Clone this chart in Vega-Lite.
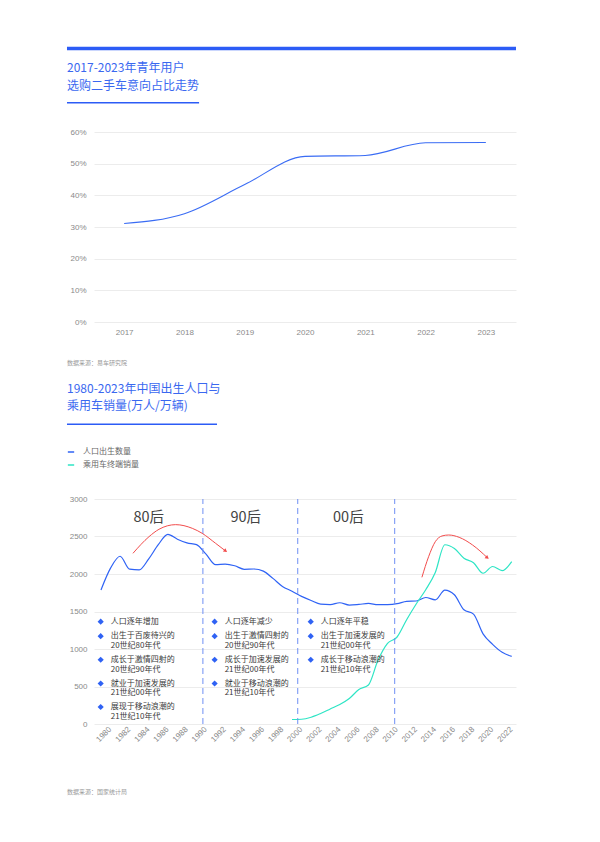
{
  "$schema": "https://vega.github.io/schema/vega-lite/v6.json",
  "background": "white",
  "padding": {"left": 65, "top": 45, "right": 20, "bottom": 10},
  "spacing": 20,
  "resolve": {"legend": {"color": "independent"}},
  "config": {
    "view": {"stroke": null},
    "font": "Noto Sans CJK SC",
    "axis": {"labelFont": "Liberation Sans", "labelFontSize": 8, "labelColor": "#8a8a8a", "domain": false, "ticks": false, "gridColor": "#ececec", "gridWidth": 1, "labelOverlap": false}
  },
  "vconcat": [
    {
      "width": 422,
      "height": 63,
      "layer": [
        {
          "data": {"values": [{"part": "bar"}]},
          "mark": {"type": "rule", "color": "#2c5cf6", "strokeWidth": 3.5},
          "encoding": {
            "x": {"datum": -0.064, "type": "quantitative", "scale": {"domain": [0, 1]}, "axis": null},
            "x2": {"datum": 1},
            "y": {"datum": 94.4, "type": "quantitative", "scale": {"domain": [0, 100]}, "axis": null}
          }
        },
        {
          "data": {"values": [{"title": "2017-2023年青年用户\n选购二手车意向占比走势"}]},
          "mark": {"type": "text", "align": "left", "baseline": "middle", "lineBreak": "\n", "lineHeight": 18, "fontSize": 12, "color": "#3a68f0"},
          "encoding": {
            "text": {"field": "title"},
            "x": {"datum": -0.064, "type": "quantitative"},
            "y": {"datum": 63.5, "type": "quantitative"}
          }
        },
        {
          "data": {"values": [{"part": "underline"}]},
          "mark": {"type": "rule", "color": "#2c5cf6", "strokeWidth": 1.5},
          "encoding": {
            "x": {"datum": -0.064, "type": "quantitative"},
            "x2": {"datum": 0.249},
            "y": {"datum": 8.4, "type": "quantitative"}
          }
        }
      ]
    },
    {
      "width": 422,
      "height": 190,
      "data": {"values": [
        {"year": "2017", "share": 0.311},
        {"year": "2018", "share": 0.342},
        {"year": "2019", "share": 0.434},
        {"year": "2020", "share": 0.523},
        {"year": "2021", "share": 0.526},
        {"year": "2022", "share": 0.566},
        {"year": "2023", "share": 0.567}
      ]},
      "mark": {"type": "line", "interpolate": "monotone", "color": "#3a6cf4", "strokeWidth": 1.1},
      "encoding": {
        "x": {"field": "year", "type": "ordinal", "scale": {"type": "point", "padding": 0.5}, "axis": {"title": null, "labelAngle": 0, "labelPadding": 6, "grid": false}},
        "y": {"field": "share", "type": "quantitative", "scale": {"domain": [0, 0.6], "nice": false}, "axis": {"title": null, "format": ".0%", "values": [0, 0.1, 0.2, 0.3, 0.4, 0.5, 0.6], "labelPadding": 8}}
      }
    },
    {
      "width": 422,
      "height": 72,
      "layer": [
        {
          "data": {"values": [{"source": "数据来源：易车研究院"}]},
          "mark": {"type": "text", "align": "left", "baseline": "middle", "fontSize": 6, "color": "#999999"},
          "encoding": {
            "text": {"field": "source"},
            "x": {"datum": -0.064, "type": "quantitative", "scale": {"domain": [0, 1]}, "axis": null},
            "y": {"datum": 90.7, "type": "quantitative", "scale": {"domain": [0, 100]}, "axis": null}
          }
        },
        {
          "data": {"values": [{"title": "1980-2023年中国出生人口与\n乘用车销量(万人/万辆)"}]},
          "mark": {"type": "text", "align": "left", "baseline": "middle", "lineBreak": "\n", "lineHeight": 17, "fontSize": 12, "color": "#3a68f0"},
          "encoding": {
            "text": {"field": "title"},
            "x": {"datum": -0.064, "type": "quantitative"},
            "y": {"datum": 54.2, "type": "quantitative"}
          }
        },
        {
          "data": {"values": [{"part": "underline"}]},
          "mark": {"type": "rule", "color": "#2c5cf6", "strokeWidth": 1.5},
          "encoding": {
            "x": {"datum": -0.064, "type": "quantitative"},
            "x2": {"datum": 0.2915},
            "y": {"datum": 5.1, "type": "quantitative"}
          }
        }
      ]
    },
    {
      "width": 422,
      "height": 225,
      "encoding": {
        "x": {"field": "year", "type": "quantitative", "scale": {"domain": [1979.27, 2023.45], "nice": false, "zero": false},
          "axis": {"title": null, "grid": false, "values": [1980, 1982, 1984, 1986, 1988, 1990, 1992, 1994, 1996, 1998, 2000, 2002, 2004, 2006, 2008, 2010, 2012, 2014, 2016, 2018, 2020, 2022], "format": "d", "labelAngle": -45, "labelAlign": "right", "labelBaseline": "middle", "labelPadding": 4, "labelOffset": 9, "labelOverlap": false, "labelFlush": false}},
        "y": {"field": "value", "type": "quantitative", "scale": {"domain": [0, 3000], "nice": false},
          "axis": {"title": null, "format": "d", "values": [0, 500, 1000, 1500, 2000, 2500, 3000], "labelPadding": 7, "labelOverlap": false, "labelFlush": false}}
      },
      "layer": [
        {
          "data": {"values": [
            {"year": 1980, "series": "人口出生数量", "value": 1787},
            {"year": 1981, "series": "人口出生数量", "value": 2078},
            {"year": 1982, "series": "人口出生数量", "value": 2237},
            {"year": 1983, "series": "人口出生数量", "value": 2064},
            {"year": 1984, "series": "人口出生数量", "value": 2055},
            {"year": 1985, "series": "人口出生数量", "value": 2202},
            {"year": 1986, "series": "人口出生数量", "value": 2391},
            {"year": 1987, "series": "人口出生数量", "value": 2529},
            {"year": 1988, "series": "人口出生数量", "value": 2464},
            {"year": 1989, "series": "人口出生数量", "value": 2414},
            {"year": 1990, "series": "人口出生数量", "value": 2391},
            {"year": 1991, "series": "人口出生数量", "value": 2265},
            {"year": 1992, "series": "人口出生数量", "value": 2125},
            {"year": 1993, "series": "人口出生数量", "value": 2132},
            {"year": 1994, "series": "人口出生数量", "value": 2110},
            {"year": 1995, "series": "人口出生数量", "value": 2063},
            {"year": 1996, "series": "人口出生数量", "value": 2067},
            {"year": 1997, "series": "人口出生数量", "value": 2038},
            {"year": 1998, "series": "人口出生数量", "value": 1942},
            {"year": 1999, "series": "人口出生数量", "value": 1834},
            {"year": 2000, "series": "人口出生数量", "value": 1771},
            {"year": 2001, "series": "人口出生数量", "value": 1702},
            {"year": 2002, "series": "人口出生数量", "value": 1647},
            {"year": 2003, "series": "人口出生数量", "value": 1599},
            {"year": 2004, "series": "人口出生数量", "value": 1593},
            {"year": 2005, "series": "人口出生数量", "value": 1617},
            {"year": 2006, "series": "人口出生数量", "value": 1585},
            {"year": 2007, "series": "人口出生数量", "value": 1594},
            {"year": 2008, "series": "人口出生数量", "value": 1608},
            {"year": 2009, "series": "人口出生数量", "value": 1591},
            {"year": 2010, "series": "人口出生数量", "value": 1592},
            {"year": 2011, "series": "人口出生数量", "value": 1604},
            {"year": 2012, "series": "人口出生数量", "value": 1635},
            {"year": 2013, "series": "人口出生数量", "value": 1640},
            {"year": 2014, "series": "人口出生数量", "value": 1687},
            {"year": 2015, "series": "人口出生数量", "value": 1655},
            {"year": 2016, "series": "人口出生数量", "value": 1786},
            {"year": 2017, "series": "人口出生数量", "value": 1723},
            {"year": 2018, "series": "人口出生数量", "value": 1523},
            {"year": 2019, "series": "人口出生数量", "value": 1465},
            {"year": 2020, "series": "人口出生数量", "value": 1202},
            {"year": 2021, "series": "人口出生数量", "value": 1062},
            {"year": 2022, "series": "人口出生数量", "value": 956},
            {"year": 2023, "series": "人口出生数量", "value": 902},
            {"year": 2000, "series": "乘用车终端销量", "value": 60},
            {"year": 2001, "series": "乘用车终端销量", "value": 63},
            {"year": 2002, "series": "乘用车终端销量", "value": 90},
            {"year": 2003, "series": "乘用车终端销量", "value": 140},
            {"year": 2004, "series": "乘用车终端销量", "value": 200},
            {"year": 2005, "series": "乘用车终端销量", "value": 260},
            {"year": 2006, "series": "乘用车终端销量", "value": 340},
            {"year": 2007, "series": "乘用车终端销量", "value": 460},
            {"year": 2008, "series": "乘用车终端销量", "value": 520},
            {"year": 2009, "series": "乘用车终端销量", "value": 850},
            {"year": 2010, "series": "乘用车终端销量", "value": 1075},
            {"year": 2011, "series": "乘用车终端销量", "value": 1160},
            {"year": 2012, "series": "乘用车终端销量", "value": 1390},
            {"year": 2013, "series": "乘用车终端销量", "value": 1600},
            {"year": 2014, "series": "乘用车终端销量", "value": 1790},
            {"year": 2015, "series": "乘用车终端销量", "value": 2020},
            {"year": 2016, "series": "乘用车终端销量", "value": 2390},
            {"year": 2017, "series": "乘用车终端销量", "value": 2340},
            {"year": 2018, "series": "乘用车终端销量", "value": 2210},
            {"year": 2019, "series": "乘用车终端销量", "value": 2150},
            {"year": 2020, "series": "乘用车终端销量", "value": 2010},
            {"year": 2021, "series": "乘用车终端销量", "value": 2100},
            {"year": 2022, "series": "乘用车终端销量", "value": 2045},
            {"year": 2023, "series": "乘用车终端销量", "value": 2165}
          ]},
          "mark": {"type": "line", "interpolate": "monotone", "strokeWidth": 1.2},
          "encoding": {
            "color": {"field": "series", "type": "nominal", "sort": ["人口出生数量", "乘用车终端销量"],
              "scale": {"domain": ["人口出生数量", "乘用车终端销量"], "range": ["#2f63f5", "#2ee5c5"]},
              "legend": {"title": null, "orient": "none", "legendX": -27, "legendY": -51, "direction": "vertical", "symbolType": "stroke", "symbolStrokeWidth": 1.5, "symbolSize": 40, "labelFontSize": 8, "labelColor": "#666666", "labelFont": "Noto Sans CJK SC", "rowPadding": 5, "labelOffset": 8, "padding": 0}}
          }
        },
        {
          "data": {"values": [
            {"year": 1990.67, "value": 0, "top": 3000},
            {"year": 2000.6, "value": 0, "top": 3000},
            {"year": 2010.75, "value": 0, "top": 3000}
          ]},
          "mark": {"type": "rule", "color": "#6f8ff4", "strokeWidth": 1, "strokeDash": [6, 4]},
          "encoding": {"y2": {"field": "top"}}
        },
        {
          "data": {"values": [
            {"label": "80后", "year": 1985.0, "value": 2747},
            {"label": "90后", "year": 1995.15, "value": 2747},
            {"label": "00后", "year": 2005.9, "value": 2747}
          ]},
          "mark": {"type": "text", "fontSize": 14.5, "color": "#444444", "align": "center", "baseline": "middle"},
          "encoding": {"text": {"field": "label"}}
        },
        {
          "data": {"values": [
            {"arrow": "a", "year": 1983.35, "value": 2276},
            {"arrow": "a", "year": 1985.03, "value": 2498},
            {"arrow": "a", "year": 1986.07, "value": 2596},
            {"arrow": "a", "year": 1987.82, "value": 2658},
            {"arrow": "a", "year": 1989.56, "value": 2609},
            {"arrow": "a", "year": 1990.6, "value": 2542},
            {"arrow": "a", "year": 1992.0, "value": 2409},
            {"arrow": "a", "year": 1993.05, "value": 2307},
            {"arrow": "b", "year": 2013.6, "value": 1956},
            {"arrow": "b", "year": 2014.3, "value": 2231},
            {"arrow": "b", "year": 2015.0, "value": 2431},
            {"arrow": "b", "year": 2015.7, "value": 2507},
            {"arrow": "b", "year": 2016.4, "value": 2520},
            {"arrow": "b", "year": 2017.5, "value": 2489},
            {"arrow": "b", "year": 2018.9, "value": 2387},
            {"arrow": "b", "year": 2020.45, "value": 2217}
          ]},
          "mark": {"type": "line", "interpolate": "monotone", "color": "#f24c4c", "strokeWidth": 1},
          "encoding": {"detail": {"field": "arrow"}}
        },
        {
          "data": {"values": [
            {"arrow": "a", "year": 1993.05, "value": 2307},
            {"arrow": "b", "year": 2020.45, "value": 2217}
          ]},
          "mark": {"type": "point", "shape": "triangle-right", "filled": true, "color": "#f24c4c", "size": 18, "angle": 38, "opacity": 1}
        },
        {
          "data": {"values": [
            {"year": 1979.97, "value": 1364},
            {"year": 1979.97, "value": 1171},
            {"year": 1979.97, "value": 857},
            {"year": 1979.97, "value": 540},
            {"year": 1979.97, "value": 227},
            {"year": 1991.9, "value": 1364},
            {"year": 1991.9, "value": 1171},
            {"year": 1991.9, "value": 857},
            {"year": 1991.9, "value": 540},
            {"year": 2001.96, "value": 1364},
            {"year": 2001.96, "value": 1171},
            {"year": 2001.96, "value": 857}
          ]},
          "mark": {"type": "point", "shape": "diamond", "filled": true, "color": "#2f62f4", "size": 38, "opacity": 1}
        },
        {
          "data": {"values": [
            {"year": 1981.02, "value": 1364, "note": "人口逐年增加"},
            {"year": 1981.02, "value": 1171, "note": "出生于百废待兴的"},
            {"year": 1981.02, "value": 1037, "note": "20世纪80年代"},
            {"year": 1981.02, "value": 857, "note": "成长于激情四射的"},
            {"year": 1981.02, "value": 724, "note": "20世纪90年代"},
            {"year": 1981.02, "value": 540, "note": "就业于加速发展的"},
            {"year": 1981.02, "value": 407, "note": "21世纪00年代"},
            {"year": 1981.02, "value": 227, "note": "展现于移动浪潮的"},
            {"year": 1981.02, "value": 93, "note": "21世纪10年代"},
            {"year": 1992.95, "value": 1364, "note": "人口逐年减少"},
            {"year": 1992.95, "value": 1171, "note": "出生于激情四射的"},
            {"year": 1992.95, "value": 1037, "note": "20世纪90年代"},
            {"year": 1992.95, "value": 857, "note": "成长于加速发展的"},
            {"year": 1992.95, "value": 724, "note": "21世纪00年代"},
            {"year": 1992.95, "value": 540, "note": "就业于移动浪潮的"},
            {"year": 1992.95, "value": 407, "note": "21世纪10年代"},
            {"year": 2003.0, "value": 1364, "note": "人口逐年平稳"},
            {"year": 2003.0, "value": 1171, "note": "出生于加速发展的"},
            {"year": 2003.0, "value": 1037, "note": "21世纪00年代"},
            {"year": 2003.0, "value": 857, "note": "成长于移动浪潮的"},
            {"year": 2003.0, "value": 724, "note": "21世纪10年代"}
          ]},
          "mark": {"type": "text", "align": "left", "baseline": "middle", "fontSize": 8, "color": "#3a3a3a"},
          "encoding": {"text": {"field": "note"}}
        }
      ]
    },
    {
      "width": 422,
      "height": 40,
      "data": {"values": [{"source": "数据来源：国家统计局"}]},
      "mark": {"type": "text", "align": "left", "baseline": "middle", "fontSize": 6, "color": "#999999"},
      "encoding": {
        "text": {"field": "source"},
        "x": {"datum": -0.064, "type": "quantitative", "scale": {"domain": [0, 1]}, "axis": null},
        "y": {"datum": 31, "type": "quantitative", "scale": {"domain": [0, 100]}, "axis": null}
      }
    }
  ]
}
